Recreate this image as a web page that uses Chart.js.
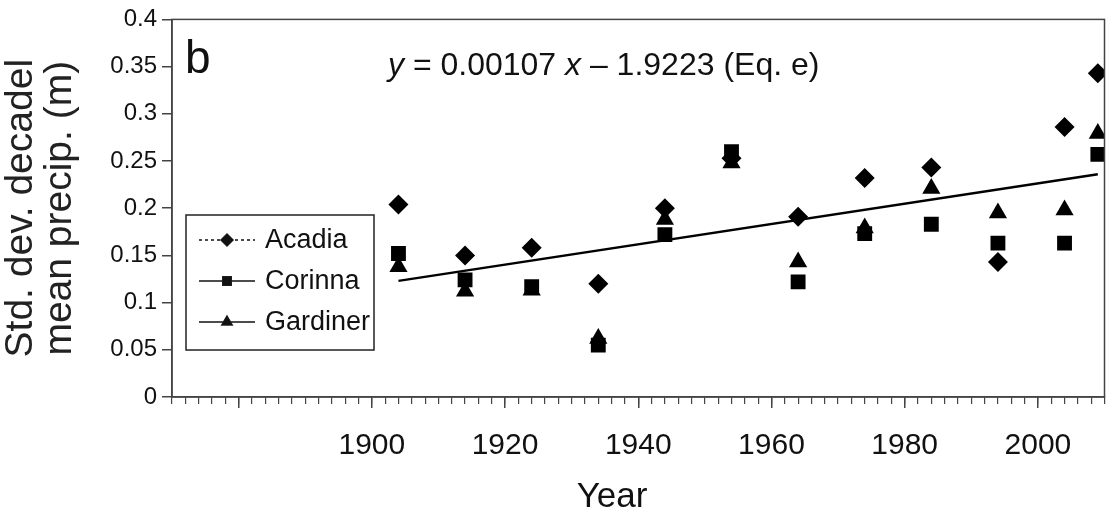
<!DOCTYPE html>
<html>
<head>
<meta charset="utf-8">
<script src="https://cdn.jsdelivr.net/npm/chart.js@4.4.0/dist/chart.umd.min.js"></script>
<style>
  html, body { margin: 0; padding: 0; background: #fff; }
  #wrap { width: 1115px; height: 518px; }
</style>
</head>
<body>
<div id="wrap"><canvas id="precipChart" width="1115" height="518"></canvas></div>
<script>
// decade centres and std. dev. of decadal mean precipitation (m)
const years = [1904, 1914, 1924, 1934, 1944, 1954, 1964, 1974, 1984, 1994, 2004, 2009];
const acadia = [0.204, 0.150, 0.158, 0.120, 0.200, 0.253, 0.191, 0.232, 0.243, 0.143, 0.286, 0.343];
const corinna = [0.152, 0.124, 0.117, 0.055, 0.172, 0.260, 0.122, 0.173, 0.183, 0.163, 0.163, 0.257];
const gardiner = [0.138, 0.112, 0.113, 0.062, 0.188, 0.248, 0.143, 0.179, 0.221, 0.195, 0.198, 0.279];
// fitted line end points (Eq. e)
const trendYears = [1904, 2009];
const trendValues = [0.123, 0.236];
// long ticks every 20 years, labels from 1900 on
const majorTickYears = [1880, 1900, 1920, 1940, 1960, 1980, 2000];
const yearLabels = [1900, 1920, 1940, 1960, 1980, 2000];

const FONT = "'Liberation Sans', Arial, Helvetica, sans-serif";
const toXY = (xs, ys) => xs.map((x, i) => ({ x: x, y: ys[i] }));

// frame, panel letter, equation, x title and the little legend box
const decorations = {
    id: 'decorations',
    afterDraw(chart) {
        const ctx = chart.ctx;
        const a = chart.chartArea;
        ctx.save();
        ctx.strokeStyle = '#444';
        ctx.lineWidth = 1.5;
        ctx.strokeRect(a.left, a.top, a.right - a.left, a.bottom - a.top);

        ctx.fillStyle = '#111';
        ctx.textBaseline = 'alphabetic';
        ctx.font = '46px ' + FONT;
        ctx.fillText('b', 185, 73);

        // equation, with italic variables
        let x = 388;
        const parts = [['y', true], [' = 0.00107 ', false], ['x', true], [' \u2013 1.9223 (Eq. e)', false]];
        parts.forEach(p => {
            ctx.font = (p[1] ? 'italic ' : '') + '32px ' + FONT;
            ctx.fillText(p[0], x, 75);
            x += ctx.measureText(p[0]).width;
        });

        ctx.font = '35px ' + FONT;
        ctx.textAlign = 'center';
        ctx.fillText('Year', 612, 507);

        // legend
        ctx.textAlign = 'left';
        ctx.lineWidth = 1.5;
        ctx.strokeStyle = '#222';
        ctx.strokeRect(186, 215, 188, 135);
        const rows = [240, 281, 322];
        chart.data.datasets.slice(0, 3).forEach((ds, i) => {
            const y = rows[i];
            ctx.save();
            ctx.lineWidth = 1.5;
            ctx.strokeStyle = '#111';
            if (i === 0) ctx.setLineDash([3, 3]);
            ctx.beginPath();
            ctx.moveTo(199, y);
            ctx.lineTo(255, y);
            ctx.stroke();
            ctx.restore();
            Chart.helpers.drawPoint(ctx, { pointStyle: ds.pointStyle, radius: 6, rotation: 0, borderWidth: 1 }, 227, y);
            ctx.fillStyle = '#111';
            ctx.fill();
            ctx.font = '27px ' + FONT;
            ctx.textBaseline = 'middle';
            ctx.fillText(ds.label, 265, y + 1);
        });
        ctx.restore();
    }
};

const markerSet = (label, data, style, radius) => ({
    label: label,
    data: toXY(years, data),
    showLine: false,
    pointStyle: style,
    pointRadius: radius,
    pointHoverRadius: radius,
    backgroundColor: '#000',
    borderColor: '#000',
    borderWidth: 0
});

new Chart(document.getElementById('precipChart').getContext('2d'), {
    type: 'scatter',
    data: {
        datasets: [
            markerSet('Acadia', acadia, 'rectRot', 10),
            markerSet('Corinna', corinna, 'rect', 10.5),
            markerSet('Gardiner', gardiner, 'triangle', 10.5),
            {
                label: 'trend',
                type: 'line',
                data: toXY(trendYears, trendValues),
                borderColor: '#000',
                borderWidth: 2.5,
                pointRadius: 0,
                fill: false
            }
        ]
    },
    options: {
        responsive: false,
        animation: false,
        devicePixelRatio: 1,
        layout: { padding: { top: 19, right: 5, left: 0, bottom: 0 } },
        plugins: {
            legend: { display: false },
            tooltip: { enabled: false }
        },
        scales: {
            y: {
                min: 0,
                max: 0.4,
                afterFit: s => { s.width = 172; },
                border: { color: '#444', width: 1.5 },
                grid: { drawOnChartArea: false, tickLength: 10, color: '#444', lineWidth: 1.5 },
                ticks: {
                    stepSize: 0.05,
                    padding: 5,
                    color: '#111',
                    font: { size: 24, family: FONT },
                    callback: v => String(+v.toFixed(2))
                },
                title: {
                    display: true,
                    text: ['Std. dev. decadel', 'mean precip. (m)'],
                    color: '#222',
                    font: { size: 39, family: FONT, lineHeight: 1.02 },
                    padding: { top: 1, bottom: 0 }
                }
            },
            x: {
                type: 'linear',
                position: 'bottom',
                weight: 0,
                min: 1870,
                max: 2010,
                afterFit: s => { s.height = 0; },
                border: { color: '#444', width: 1.5 },
                grid: { drawOnChartArea: false, tickLength: 7, color: '#444', lineWidth: 1.2 },
                ticks: { stepSize: 2, display: false }
            },
            xMajor: {
                type: 'linear',
                position: 'bottom',
                weight: 1,
                min: 1870,
                max: 2010,
                afterFit: s => { s.height = 121; },
                afterBuildTicks: s => { s.ticks = majorTickYears.map(v => ({ value: v })); },
                border: { display: false },
                grid: { drawOnChartArea: false, tickLength: 11, color: '#444', lineWidth: 1.5 },
                ticks: {
                    autoSkip: false,
                    maxRotation: 0,
                    padding: 20,
                    color: '#111',
                    font: { size: 30, family: FONT },
                    callback: v => (yearLabels.includes(v) ? String(v) : '')
                }
            }
        }
    },
    plugins: [decorations]
});
</script>
</body>
</html>
